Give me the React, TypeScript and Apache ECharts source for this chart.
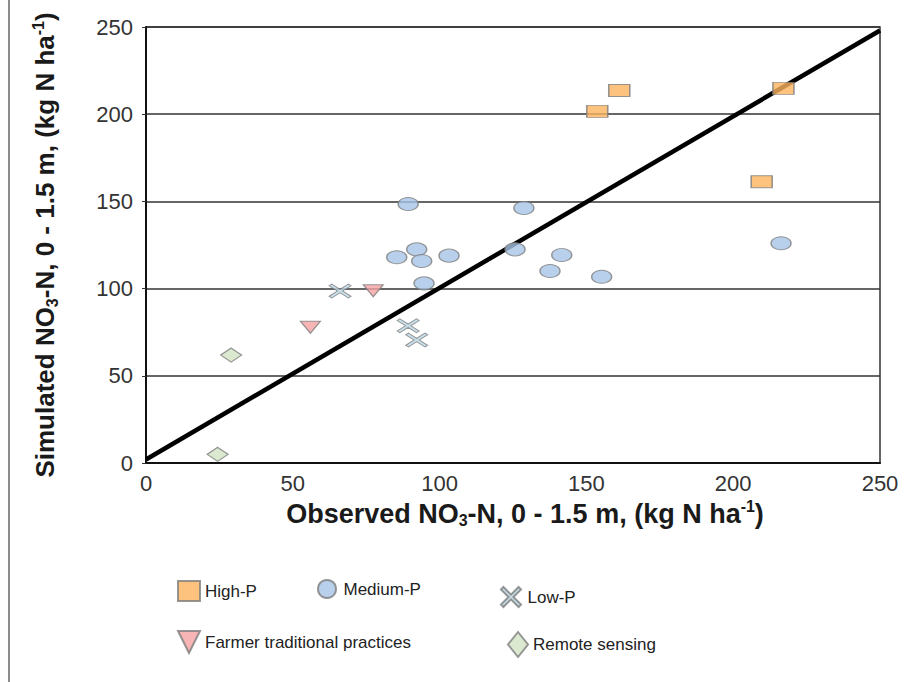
import React, { useEffect, useRef } from "react";
import * as echarts from "echarts";

const xTicks = [0, 50, 100, 150, 200, 250];
const yTicks = [0, 50, 100, 150, 200, 250];

const highP: number[][] = [
  [161.2, 213.6], [153.7, 201.6], [217.1, 214.8], [209.7, 161.3],
];
const mediumP: number[][] = [
  [89.3, 148.5], [92.2, 122.5], [85.4, 118.0], [93.9, 115.8], [103.2, 118.9], [94.7, 103.0],
  [128.7, 146.2], [125.7, 122.5], [141.6, 119.3], [137.6, 110.1], [155.2, 106.8], [216.3, 126.0],
];
const lowP: number[][] = [
  [66.1, 98.6], [89.3, 78.7], [92.2, 70.5],
];
const farmer: number[][] = [
  [77.4, 98.8], [56.0, 77.8],
];
const remote: number[][] = [
  [29.0, 61.9], [24.4, 5.0],
];
const fitLine: number[][] = [
  [0, 2], [250, 248],
];

const seriesNames = ["High-P", "Medium-P", "Low-P", "Farmer traditional practices", "Remote sensing"];

const X_PATH = "path://M0,12 L12,0 L50,38 L88,0 L100,12 L62,50 L100,88 L88,100 L50,62 L12,100 L0,88 L38,50 Z";
const TRI_DOWN = "path://M0,0 L100,0 L50,100 Z";

const TICK_FONT = "'Liberation Sans', Arial, sans-serif";
const LEGEND_FONT = "'Liberation Sans', Arial, sans-serif";

export default function App() {
  const ref = useRef<HTMLDivElement>(null);
  useEffect(() => {
    document.body.style.margin = "0";
    if (!ref.current) return;
    const chart = echarts.init(ref.current, null, { renderer: "svg" });
    const mkRich = (size: number) => ({
      b: { fontSize: size, fontWeight: "bold", color: "#1a1a1a", fontFamily: TICK_FONT, lineHeight: 30 },
      sub: { fontSize: 16, fontWeight: "bold", color: "#1a1a1a", fontFamily: TICK_FONT, lineHeight: 14, verticalAlign: "bottom" },
      sup: { fontSize: 16, fontWeight: "bold", color: "#1a1a1a", fontFamily: TICK_FONT, lineHeight: 14, verticalAlign: "top" },
    });
    const borderCol = "#7d7d7d";
    const legendBase = (name: string, left: number, top: number, w: number, h: number) => ({
      data: [name],
      left,
      top,
      itemWidth: w,
      itemHeight: h,
      selectedMode: false,
      textStyle: { fontSize: 17, fontFamily: LEGEND_FONT, color: "#222" },
    });
    chart.setOption({
      animation: false,
      backgroundColor: "#fff",
      grid: { left: 146, right: 25, top: 27, bottom: 219, show: true, borderColor: "#333", borderWidth: 1.5, backgroundColor: "transparent" },
      legend: [
        legendBase(seriesNames[0], 172, 575, 22, 20),
        legendBase(seriesNames[1], 312, 574, 23, 18),
        legendBase(seriesNames[2], 495, 581, 23, 20),
        legendBase(seriesNames[3], 172, 625, 22, 22),
        legendBase(seriesNames[4], 502, 626, 20, 25),
      ],
      xAxis: {
        type: "value",
        min: xTicks[0],
        max: xTicks[xTicks.length - 1],
        interval: 50,
        axisLine: { show: true, lineStyle: { color: "#111", width: 2 } },
        axisTick: { show: false },
        splitLine: { show: false },
        axisLabel: { fontSize: 22, color: "#333", fontFamily: TICK_FONT, margin: 9 },
        name: "{b|Observed NO}{sub|3}{b|-N, 0 - 1.5 m, (kg N ha}{sup|-1}{b|)}",
        nameLocation: "middle",
        nameGap: 27,
        nameTextStyle: { rich: mkRich(27), padding: [0, 0, 0, 24] },
      },
      yAxis: {
        type: "value",
        min: yTicks[0],
        max: yTicks[yTicks.length - 1],
        interval: 50,
        axisLine: { show: true, lineStyle: { color: "#111", width: 2 } },
        axisTick: { show: true, length: 4, lineStyle: { color: "#333" } },
        splitLine: { show: true, lineStyle: { color: "#333", width: 1.5 } },
        axisLabel: { fontSize: 22, color: "#333", fontFamily: TICK_FONT, margin: 13 },
        name: "{b|Simulated NO}{sub|3}{b|-N, 0 - 1.5 m, (kg N ha}{sup|-1}{b|)}",
        nameLocation: "middle",
        nameRotate: 90,
        nameGap: 86,
        nameTextStyle: { rich: mkRich(26) },
      },
      series: [
        {
          type: "line",
          data: fitLine,
          symbol: "none",
          lineStyle: { color: "#000", width: 4.5 },
          z: 1,
          silent: true,
        },
        {
          name: seriesNames[0],
          type: "scatter",
          data: highP,
          symbol: "rect",
          symbolSize: [21, 12],
          itemStyle: { color: "#fdb45e", borderColor: borderCol, borderWidth: 1.2 },
          z: 3,
        },
        {
          name: seriesNames[1],
          type: "scatter",
          data: mediumP,
          symbol: "circle",
          symbolSize: [20, 13],
          itemStyle: { color: "#a6c4e6", borderColor: borderCol, borderWidth: 1.2 },
          z: 3,
        },
        {
          name: seriesNames[2],
          type: "scatter",
          data: lowP,
          symbol: X_PATH,
          symbolSize: [22, 14],
          itemStyle: { color: "#bcd8e6", borderColor: borderCol, borderWidth: 1 },
          z: 3,
        },
        {
          name: seriesNames[3],
          type: "scatter",
          data: farmer,
          symbol: TRI_DOWN,
          symbolSize: [20, 12],
          itemStyle: { color: "#f5a3a3", borderColor: borderCol, borderWidth: 1.2 },
          z: 3,
        },
        {
          name: seriesNames[4],
          type: "scatter",
          data: remote,
          symbol: "diamond",
          symbolSize: [21, 14],
          itemStyle: { color: "#d3e3c6", borderColor: borderCol, borderWidth: 1.2 },
          z: 3,
        },
      ],
      graphic: [
        { type: "rect", shape: { x: 8, y: 0, width: 2, height: 682 }, style: { fill: "#8c8c8c" }, silent: true },
      ],
    });
    return () => chart.dispose();
  }, []);
  return <div ref={ref} style={{ width: 905, height: 682 }} />;
}
